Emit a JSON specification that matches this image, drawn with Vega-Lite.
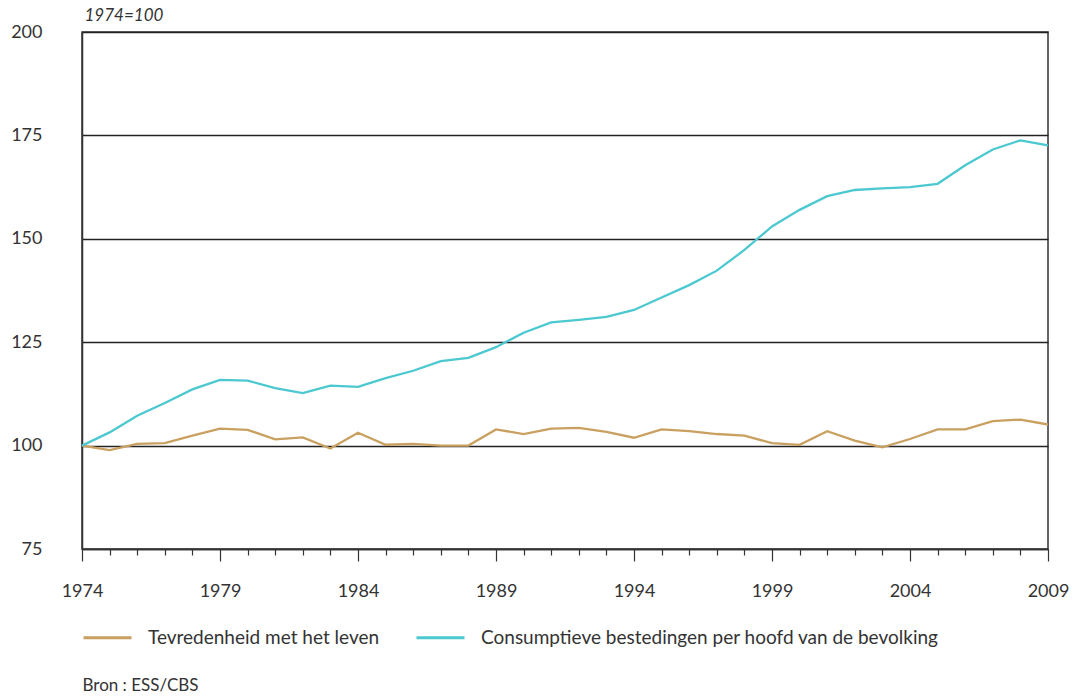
{
  "$schema": "https://vega.github.io/schema/vega-lite/v6.json",
  "autosize": {"type": "none"},
  "padding": {"left": 82, "top": 32, "right": 27, "bottom": 148},
  "width": 966,
  "height": 517,
  "background": "white",
  "config": {
    "font": "Lato",
    "view": {"stroke": "#333333", "strokeWidth": 1.5},
    "axis": {"labelFont": "Lato", "labelFontSize": 18, "labelColor": "#333333", "titleFont": "Lato"}
  },
  "data": {
    "values": [
      {"year": 1974, "series": "Tevredenheid met het leven", "value": 100},
      {"year": 1975, "series": "Tevredenheid met het leven", "value": 98.9},
      {"year": 1976, "series": "Tevredenheid met het leven", "value": 100.4},
      {"year": 1977, "series": "Tevredenheid met het leven", "value": 100.6},
      {"year": 1978, "series": "Tevredenheid met het leven", "value": 102.4},
      {"year": 1979, "series": "Tevredenheid met het leven", "value": 104.1},
      {"year": 1980, "series": "Tevredenheid met het leven", "value": 103.8},
      {"year": 1981, "series": "Tevredenheid met het leven", "value": 101.5},
      {"year": 1982, "series": "Tevredenheid met het leven", "value": 102},
      {"year": 1983, "series": "Tevredenheid met het leven", "value": 99.3},
      {"year": 1984, "series": "Tevredenheid met het leven", "value": 103.1},
      {"year": 1985, "series": "Tevredenheid met het leven", "value": 100.2},
      {"year": 1986, "series": "Tevredenheid met het leven", "value": 100.4},
      {"year": 1987, "series": "Tevredenheid met het leven", "value": 100},
      {"year": 1988, "series": "Tevredenheid met het leven", "value": 100},
      {"year": 1989, "series": "Tevredenheid met het leven", "value": 103.9},
      {"year": 1990, "series": "Tevredenheid met het leven", "value": 102.8},
      {"year": 1991, "series": "Tevredenheid met het leven", "value": 104.1},
      {"year": 1992, "series": "Tevredenheid met het leven", "value": 104.3},
      {"year": 1993, "series": "Tevredenheid met het leven", "value": 103.3},
      {"year": 1994, "series": "Tevredenheid met het leven", "value": 101.9},
      {"year": 1995, "series": "Tevredenheid met het leven", "value": 103.9},
      {"year": 1996, "series": "Tevredenheid met het leven", "value": 103.5},
      {"year": 1997, "series": "Tevredenheid met het leven", "value": 102.8},
      {"year": 1998, "series": "Tevredenheid met het leven", "value": 102.4},
      {"year": 1999, "series": "Tevredenheid met het leven", "value": 100.6},
      {"year": 2000, "series": "Tevredenheid met het leven", "value": 100.2},
      {"year": 2001, "series": "Tevredenheid met het leven", "value": 103.5},
      {"year": 2002, "series": "Tevredenheid met het leven", "value": 101.2},
      {"year": 2003, "series": "Tevredenheid met het leven", "value": 99.6},
      {"year": 2004, "series": "Tevredenheid met het leven", "value": 101.6},
      {"year": 2005, "series": "Tevredenheid met het leven", "value": 103.9},
      {"year": 2006, "series": "Tevredenheid met het leven", "value": 103.9},
      {"year": 2007, "series": "Tevredenheid met het leven", "value": 105.9},
      {"year": 2008, "series": "Tevredenheid met het leven", "value": 106.3},
      {"year": 2009, "series": "Tevredenheid met het leven", "value": 105.1},
      {"year": 1974, "series": "Consumptieve bestedingen per hoofd van de bevolking", "value": 100},
      {"year": 1975, "series": "Consumptieve bestedingen per hoofd van de bevolking", "value": 103.2},
      {"year": 1976, "series": "Consumptieve bestedingen per hoofd van de bevolking", "value": 107.2},
      {"year": 1977, "series": "Consumptieve bestedingen per hoofd van de bevolking", "value": 110.3},
      {"year": 1978, "series": "Consumptieve bestedingen per hoofd van de bevolking", "value": 113.6},
      {"year": 1979, "series": "Consumptieve bestedingen per hoofd van de bevolking", "value": 115.9},
      {"year": 1980, "series": "Consumptieve bestedingen per hoofd van de bevolking", "value": 115.7},
      {"year": 1981, "series": "Consumptieve bestedingen per hoofd van de bevolking", "value": 113.9},
      {"year": 1982, "series": "Consumptieve bestedingen per hoofd van de bevolking", "value": 112.7},
      {"year": 1983, "series": "Consumptieve bestedingen per hoofd van de bevolking", "value": 114.5},
      {"year": 1984, "series": "Consumptieve bestedingen per hoofd van de bevolking", "value": 114.2},
      {"year": 1985, "series": "Consumptieve bestedingen per hoofd van de bevolking", "value": 116.3},
      {"year": 1986, "series": "Consumptieve bestedingen per hoofd van de bevolking", "value": 118.1},
      {"year": 1987, "series": "Consumptieve bestedingen per hoofd van de bevolking", "value": 120.4},
      {"year": 1988, "series": "Consumptieve bestedingen per hoofd van de bevolking", "value": 121.2},
      {"year": 1989, "series": "Consumptieve bestedingen per hoofd van de bevolking", "value": 123.8},
      {"year": 1990, "series": "Consumptieve bestedingen per hoofd van de bevolking", "value": 127.3},
      {"year": 1991, "series": "Consumptieve bestedingen per hoofd van de bevolking", "value": 129.8},
      {"year": 1992, "series": "Consumptieve bestedingen per hoofd van de bevolking", "value": 130.4},
      {"year": 1993, "series": "Consumptieve bestedingen per hoofd van de bevolking", "value": 131.1},
      {"year": 1994, "series": "Consumptieve bestedingen per hoofd van de bevolking", "value": 132.8},
      {"year": 1995, "series": "Consumptieve bestedingen per hoofd van de bevolking", "value": 135.8},
      {"year": 1996, "series": "Consumptieve bestedingen per hoofd van de bevolking", "value": 138.8},
      {"year": 1997, "series": "Consumptieve bestedingen per hoofd van de bevolking", "value": 142.3},
      {"year": 1998, "series": "Consumptieve bestedingen per hoofd van de bevolking", "value": 147.3},
      {"year": 1999, "series": "Consumptieve bestedingen per hoofd van de bevolking", "value": 153},
      {"year": 2000, "series": "Consumptieve bestedingen per hoofd van de bevolking", "value": 157},
      {"year": 2001, "series": "Consumptieve bestedingen per hoofd van de bevolking", "value": 160.3},
      {"year": 2002, "series": "Consumptieve bestedingen per hoofd van de bevolking", "value": 161.8},
      {"year": 2003, "series": "Consumptieve bestedingen per hoofd van de bevolking", "value": 162.2},
      {"year": 2004, "series": "Consumptieve bestedingen per hoofd van de bevolking", "value": 162.5},
      {"year": 2005, "series": "Consumptieve bestedingen per hoofd van de bevolking", "value": 163.3},
      {"year": 2006, "series": "Consumptieve bestedingen per hoofd van de bevolking", "value": 167.8},
      {"year": 2007, "series": "Consumptieve bestedingen per hoofd van de bevolking", "value": 171.6},
      {"year": 2008, "series": "Consumptieve bestedingen per hoofd van de bevolking", "value": 173.8},
      {"year": 2009, "series": "Consumptieve bestedingen per hoofd van de bevolking", "value": 172.6}
    ]
  },
  "mark": {"type": "line", "strokeWidth": 2.3, "interpolate": "linear"},
  "encoding": {
    "x": {
      "field": "year",
      "type": "quantitative",
      "scale": {"domain": [1974, 2009], "nice": false, "zero": false},
      "axis": {
        "values": [1974,1975,1976,1977,1978,1979,1980,1981,1982,1983,1984,1985,1986,1987,1988,1989,1990,1991,1992,1993,1994,1995,1996,1997,1998,1999,2000,2001,2002,2003,2004,2005,2006,2007,2008,2009],
        "format": "d",
        "labelExpr": "datum.value % 5 == 4 ? datum.label : ''",
        "grid": false,
        "domain": true,
        "domainColor": "#333333",
        "domainWidth": 1.5,
        "tickColor": "#333333",
        "tickWidth": 1.2,
        "tickSize": {"condition": {"test": "datum.value % 5 == 4", "value": 12}, "value": 6},
        "labelPadding": 21,
        "labelFlush": false,
        "labelOverlap": false,
        "title": "Bron : ESS/CBS",
        "titleFontSize": 17,
        "titleFontWeight": "normal",
        "titleColor": "#333333",
        "titleAnchor": "start",
        "titleAlign": "left",
        "titleBaseline": "middle",
        "titleX": 0,
        "titleY": 136
      }
    },
    "y": {
      "field": "value",
      "type": "quantitative",
      "scale": {"domain": [75, 200], "nice": false, "zero": false},
      "axis": {
        "values": [75, 100, 125, 150, 175, 200],
        "grid": true,
        "gridColor": "#222222",
        "gridWidth": 1.5,
        "ticks": false,
        "domain": true,
        "domainColor": "#333333",
        "domainWidth": 1.5,
        "labelPadding": 40,
        "title": "1974=100",
        "titleAngle": 0,
        "titleFontStyle": "italic",
        "titleFontWeight": "normal",
        "titleFontSize": 17,
        "titleColor": "#333333",
        "titleAlign": "left",
        "titleBaseline": "middle",
        "titleX": 2,
        "titleY": -17
      }
    },
    "color": {
      "field": "series",
      "type": "nominal",
      "scale": {
        "domain": ["Tevredenheid met het leven", "Consumptieve bestedingen per hoofd van de bevolking"],
        "range": ["#c9a060", "#4cc8d0"]
      },
      "legend": {
        "title": null,
        "orient": "none",
        "direction": "horizontal",
        "legendX": 0,
        "legendY": 580,
        "symbolType": "stroke",
        "symbolSize": 2304,
        "symbolStrokeWidth": 3,
        "labelFontSize": 19,
        "labelColor": "#333333",
        "labelOffset": 15,
        "columnPadding": 30,
        "labelLimit": 700,
        "padding": 0
      }
    }
  }
}
